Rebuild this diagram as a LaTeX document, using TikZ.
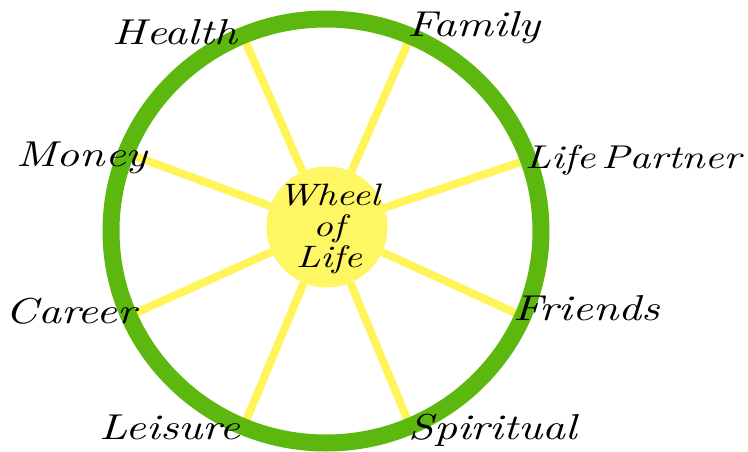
\documentclass[tikz,border=0pt]{standalone}
\usepackage{fontspec}
\newfontfamily\handfont{lmroman10-italic}[Extension=.otf, FakeStretch=1.25]
\usetikzlibrary{positioning}
\definecolor{rimgreen}{RGB}{92, 184, 14}
\definecolor{spokeyellow}{RGB}{255, 245, 90}
\definecolor{hubyellow}{RGB}{255, 246, 100}

\begin{document}
\begin{tikzpicture}[x=1pt, y=-1pt,
    rim/.style={draw=rimgreen, line width=17pt},
    spoke/.style={draw=spokeyellow, line width=8pt},
    hub/.style={circle, fill=hubyellow, minimum size=121pt, inner sep=0pt},
    hubtext/.style={align=center, inner sep=0pt,
                    font=\handfont\fontsize{31}{31}\selectfont},
    area/.style={inner sep=0pt, font=\handfont\fontsize{36}{36}\selectfont}
]
    \useasboundingbox (0,0) rectangle (748,451);

    % Spoke ends on the rim
    \coordinate (healthend) at (243,36);
    \coordinate (familyend) at (410,38);
    \coordinate (moneyend) at (129,154);
    \coordinate (partnerend) at (527,160);
    \coordinate (careerend) at (129,316);
    \coordinate (friendsend) at (522,316);
    \coordinate (leisureend) at (243,428);
    \coordinate (spiritualend) at (411,428);

    % Hub
    \node[hub] (hub) at (327,227) {};
    \node[hubtext] (hubtitle) at (329,229) {Wheel\\of\\Life};

    % Spokes
    \draw[spoke] (hub) -- (healthend);
    \draw[spoke] (hub) -- (familyend);
    \draw[spoke] (hub) -- (moneyend);
    \draw[spoke] (hub) -- (partnerend);
    \draw[spoke] (hub) -- (careerend);
    \draw[spoke] (hub) -- (friendsend);
    \draw[spoke] (hub) -- (leisureend);
    \draw[spoke] (hub) -- (spiritualend);

    % Rim
    \draw[rim] (326,231) ellipse [x radius=215, y radius=212];

    % Labels
    \node[area] (health) at (175,32) {Health};
    \node[area] (family) at (474,28) {Family};
    \node[area] (money) at (82,158) {Money};
    \node[area, anchor=west, font=\handfont\fontsize{33}{33}\selectfont]
        (partner) at (525,160) {Life\hspace{6pt}Partner};
    \node[area] (career) at (71,311) {Career};
    \node[area] (friends) at (587,308) {Friends};
    \node[area] (leisure) at (170,427) {Leisure};
    \node[area] (spiritual) at (493,430) {Spiritual};
\end{tikzpicture}
\end{document}
